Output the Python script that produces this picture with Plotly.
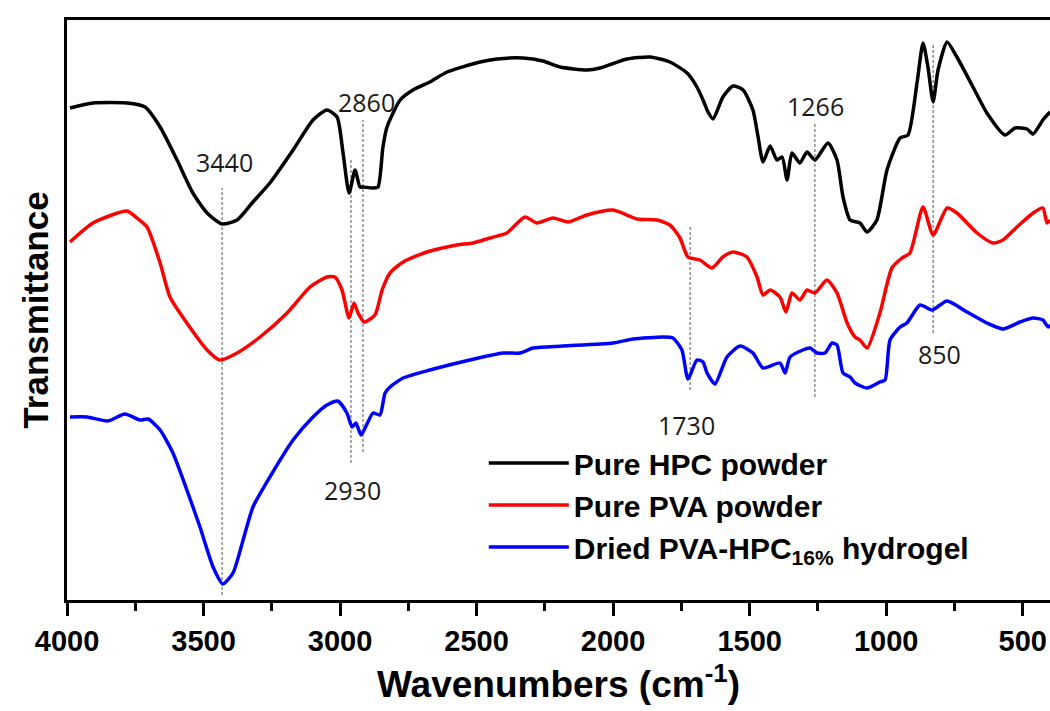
import plotly.graph_objects as go

# ---------------- data ----------------
hpc_wn = [3989, 3905, 3780, 3714, 3659, 3597, 3539, 3487, 3432, 3377, 3319, 3257, 3172, 3099, 3048,
          3011, 2989, 2967, 2945, 2927, 2916, 2879, 2861, 2843, 2828, 2780, 2733, 2671, 2608, 2487,
          2425, 2330, 2257, 2194, 2096, 2048, 1949, 1865, 1792, 1729, 1693, 1663, 1656, 1634, 1598,
          1561, 1524, 1488, 1469, 1451, 1425, 1400, 1381, 1363, 1345, 1316, 1290, 1261, 1213, 1180,
          1158, 1132, 1096, 1070, 1034, 997, 949, 920, 887, 865, 847, 828, 810, 777, 741, 682, 631,
          565, 528, 484, 462, 426, 400]
hpc_t = [492, 497, 497, 493, 473, 440, 407, 387, 376, 380, 398, 417, 450, 480, 490,
         483, 447, 407, 430, 413, 413, 412, 413, 453, 473, 500, 510, 518, 528, 538,
         541, 542, 539, 533, 530, 532, 541, 543, 538, 527, 513, 495, 490, 481, 503,
         514, 510, 490, 463, 438, 454, 440, 443, 420, 447, 437, 448, 440, 457, 440,
         403, 380, 377, 368, 380, 430, 462, 465, 517, 557, 533, 498, 530, 558, 543, 513, 487,
         465, 472, 471, 466, 480, 488]

pva_wn = [3989, 3905, 3780, 3744, 3707, 3659, 3623, 3561, 3487, 3440, 3377, 3293, 3194, 3110, 3048,
          3019, 2993, 2967, 2949, 2934, 2912, 2872, 2846, 2817, 2769, 2682, 2572, 2513, 2451, 2389,
          2323, 2279, 2220, 2165, 2096, 2000, 1912, 1839, 1792, 1755, 1726, 1682, 1638, 1598, 1561,
          1510, 1473, 1451, 1425, 1389, 1367, 1345, 1316, 1290, 1261, 1217, 1180, 1143, 1114, 1096,
          1070, 1023, 979, 942, 913, 865, 828, 777, 741, 667, 609, 572, 521, 462, 426, 411, 400]
pva_t = [358, 377, 389, 382, 373, 337, 303, 277, 250, 240, 247, 263, 287, 313, 323,
         323, 310, 282, 297, 287, 278, 285, 310, 327, 338, 348, 355, 357, 362, 367,
         383, 377, 382, 378, 385, 390, 381, 380, 375, 362, 343, 340, 332, 343, 348,
         343, 323, 305, 310, 303, 288, 307, 300, 310, 307, 320, 307, 277, 263, 260,
         252, 287, 332, 342, 347, 393, 365, 392, 387, 367, 357, 360, 373, 387, 392, 377, 380]

gel_wn = [3989, 3927, 3850, 3788, 3733, 3703, 3659, 3612, 3561, 3513, 3465, 3429, 3392, 3355, 3319,
          3257, 3172, 3099, 3048, 3008, 2975, 2956, 2942, 2923, 2898, 2879, 2854, 2835, 2817, 2769,
          2671, 2524, 2403, 2341, 2293, 2184, 2000, 1927, 1817, 1781, 1748, 1726, 1693, 1671, 1656,
          1627, 1583, 1535, 1488, 1451, 1389, 1370, 1352, 1305, 1279, 1253, 1224, 1198, 1180, 1158,
          1132, 1114, 1070, 1023, 1004, 986, 949, 924, 876, 832, 777, 704, 631, 572, 510, 462, 426,
          407, 400]
gel_t = [183, 183, 179, 186, 180, 181, 170, 147, 110, 73, 33, 16, 27, 60, 93,
         123, 160, 183, 195, 199, 187, 173, 177, 165, 178, 187, 185, 207, 213, 222,
         230, 240, 247, 247, 252, 254, 257, 261, 263, 262, 250, 221, 240, 238, 227,
         216, 243, 254, 247, 232, 237, 227, 243, 250, 252, 247, 247, 257, 255, 227,
         223, 217, 212, 218, 220, 260, 273, 277, 295, 290, 299, 288, 277, 271, 278, 282, 280,
         273, 275]

series_names = ["Pure HPC powder", "Pure PVA powder", "Dried PVA-HPC<sub>16%</sub> hydrogel"]
series_colors = ["#000000", "#ff0000", "#0000ff"]

# peak markers: line position, vertical extent (a.u.), label text and label placement
peak_pos = [3432, 2960, 2916, 1718, 1261, 828]
peak_lo = [5, 137, 148, 210, 203, 267]
peak_hi = [412, 440, 480, 373, 477, 555]
label_text = ["3440", "2930", "2860", "1730", "1266", "850"]
label_wn = [3425, 2953, 2905, 1733, 1257, 803]
label_t = [438, 110, 498, 175, 494, 246]

x_tick_vals = [4000, 3500, 3000, 2500, 2000, 1500, 1000, 500]
x_tick_text = [str(v) for v in x_tick_vals]

# ---------------- figure ----------------
fig = go.Figure()

for p, lo, hi in zip(peak_pos, peak_lo, peak_hi):
    fig.add_trace(go.Scatter(x=[p, p], y=[lo, hi], mode="lines", showlegend=False,
                             hoverinfo="skip",
                             line=dict(color="#555555", width=1, dash="3px,2px")))

for wn, t, name, col in zip([hpc_wn, pva_wn, gel_wn], [hpc_t, pva_t, gel_t],
                            series_names, series_colors):
    fig.add_trace(go.Scatter(x=wn, y=t, mode="lines", name=name,
                             line=dict(color=col, width=3.5, shape="spline", smoothing=0.6)))

for txt, xw, yt in zip(label_text, label_wn, label_t):
    fig.add_annotation(x=xw, y=yt, text=txt, showarrow=False,
                       font=dict(family="Open Sans", size=25, color="#1a1a1a"))

fig.update_layout(
    width=1050, height=711,
    margin=dict(l=67, r=0, t=20, b=111),
    paper_bgcolor="white", plot_bgcolor="white",
    showlegend=True,
    legend=dict(x=0.424, y=0.281, xanchor="left", yanchor="top",
                bgcolor="rgba(0,0,0,0)", itemwidth=80, tracegroupgap=0,
                font=dict(family="Liberation Sans, Arial", size=30, color="black", weight="bold")),
    xaxis=dict(range=[4000, 400], showgrid=False, zeroline=False,
               showline=True, linecolor="black", linewidth=3, mirror=True,
               ticks="outside", ticklen=13, tickwidth=3, tickcolor="black",
               tickvals=x_tick_vals, ticktext=x_tick_text,
               minor=dict(ticks="outside", ticklen=8, tickwidth=3, tickcolor="black", dtick=250,
                          tick0=4000),
               tickfont=dict(family="Liberation Sans, Arial", size=29, color="black", weight="bold"),
               title=dict(text="Wavenumbers (cm<sup>-1</sup>)", standoff=16,
                          font=dict(family="Liberation Sans, Arial", size=37, color="black",
                                    weight="bold"))),
    yaxis=dict(range=[0, 580], showgrid=False, zeroline=False,
               showline=True, linecolor="black", linewidth=3, mirror=False,
               ticks="", showticklabels=False,
               title=dict(text="Transmittance", standoff=5,
                          font=dict(family="Liberation Sans, Arial", size=35, color="black",
                                    weight="bold"))),
)

fig.write_html("out.html")
